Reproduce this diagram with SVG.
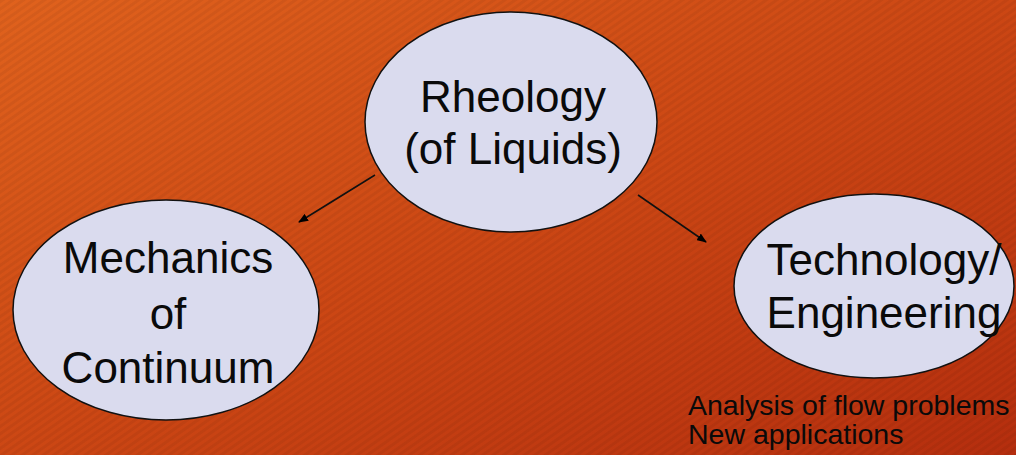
<svg xmlns="http://www.w3.org/2000/svg" width="1016" height="455" viewBox="0 0 1016 455">
  <defs>
    <linearGradient id="bg" x1="0" y1="0" x2="1" y2="1">
      <stop offset="0" stop-color="#E0621D"/>
      <stop offset="0.5" stop-color="#CC4714"/>
      <stop offset="1" stop-color="#B52E0E"/>
    </linearGradient>
    <pattern id="stripes" width="6" height="6" patternUnits="userSpaceOnUse" patternTransform="rotate(-35)">
      <rect width="6" height="3" fill="#000" fill-opacity="0.05"/>
    </pattern>
    <marker id="arrow" markerWidth="10" markerHeight="8" refX="9" refY="4" orient="auto" markerUnits="userSpaceOnUse">
      <path d="M0,0 L10,4 L0,8 Z" fill="#000"/>
    </marker>
  </defs>
  <style>
    .node ellipse { fill: #DADBEE; stroke: #111; stroke-width: 1.5; }
    .label { font-family: "Liberation Sans", Arial, sans-serif; font-size: 44px; fill: #0a0a0a; text-anchor: middle; }
    .note { font-family: "Liberation Sans", Arial, sans-serif; font-size: 28.5px; fill: #0a0a0a; }
    .conn line { stroke: #111; stroke-width: 1.6; marker-end: url(#arrow); }
  </style>
  <rect width="1016" height="455" fill="url(#bg)"/>
  <rect width="1016" height="455" fill="url(#stripes)"/>

  <g id="connectors" class="conn">
    <line x1="375" y1="175" x2="299" y2="222"/>
    <line x1="638" y1="195" x2="706" y2="242"/>
  </g>

  <g id="rheology" class="node">
    <ellipse cx="511" cy="122" rx="146" ry="110"/>
    <text class="label" x="513" y="112">Rheology</text>
    <text class="label" x="513" y="164">(of Liquids)</text>
  </g>

  <g id="mechanics" class="node">
    <ellipse cx="166" cy="310" rx="153" ry="110"/>
    <text class="label" x="168" y="273">Mechanics</text>
    <text class="label" x="168" y="329">of</text>
    <text class="label" x="168" y="383">Continuum</text>
  </g>

  <g id="technology" class="node">
    <ellipse cx="874" cy="286" rx="140" ry="92"/>
    <text class="label" x="884" y="275">Technology/</text>
    <text class="label" x="884" y="328">Engineering</text>
  </g>

  <g id="notes">
    <text class="note" x="688" y="415">Analysis of flow problems</text>
    <text class="note" x="688" y="444">New applications</text>
  </g>
</svg>
